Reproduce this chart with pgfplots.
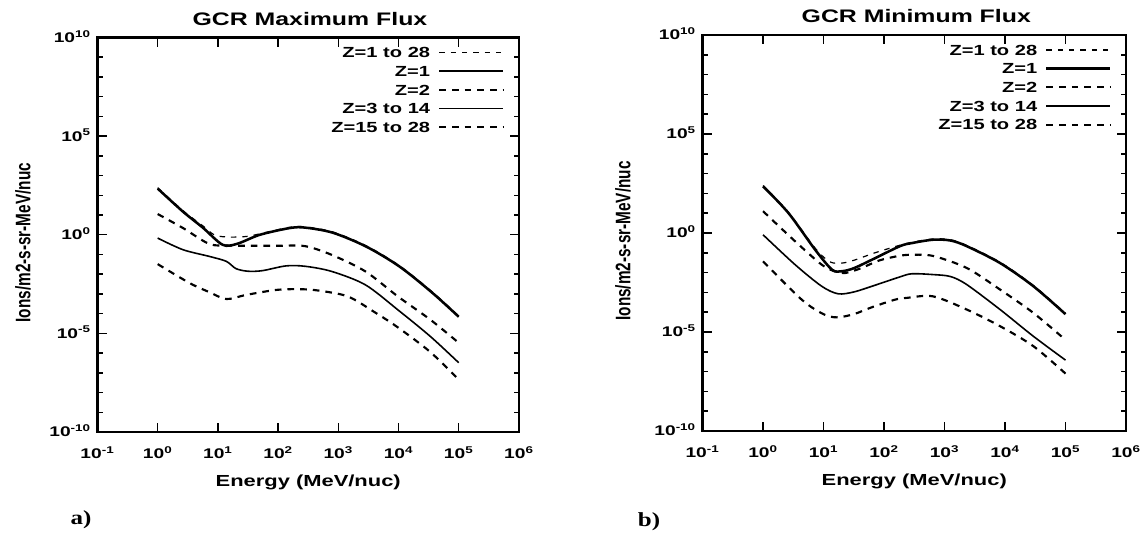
\documentclass[border=0pt]{standalone}
\usepackage{graphicx}
\usepackage{pgfplots}
\pgfplotsset{compat=1.18}
\usepackage{fontspec}
\setmainfont{Liberation Sans}[FakeStretch=1.37]
\newfontfamily\plainsans{Liberation Sans}
\newfontfamily\panelfont{Liberation Serif}[FakeStretch=1.25]

\pgfplotsset{
  gcr/.style={
    scale only axis,
    xmin=0.1, xmax=1e6, ymin=1e-10, ymax=1e10,
    xtick={0.1,1,10,100,1000,10000,100000,1000000},
    xticklabels={10\textsuperscript{-1},10\textsuperscript{0},10\textsuperscript{1},10\textsuperscript{2},10\textsuperscript{3},10\textsuperscript{4},10\textsuperscript{5},10\textsuperscript{6}},
    ytick={1e-10,1e-5,1,1e5,1e10},
    yticklabels={10\textsuperscript{-10},10\textsuperscript{-5},10\textsuperscript{0},10\textsuperscript{5},10\textsuperscript{10}},
    xminorticks=false,
    minor ytick={1e-9,1e-8,1e-7,1e-6,1e-4,1e-3,1e-2,1e-1,1e1,1e2,1e3,1e4,1e6,1e7,1e8,1e9},
    major tick length=7pt, minor tick length=3.8pt,
    tick style={black, line width=1.1pt},
    axis line style={line width=1.6pt},
    tick label style={font=\fontsize{10.5}{12}\selectfont\bfseries},
    xticklabel style={anchor=base, yshift=-20pt},
    yticklabel style={anchor=base east, yshift=-3.7pt, xshift=-1.5pt},
    title style={font=\fontsize{13.6}{16}\selectfont\bfseries, anchor=base},
    xlabel={Energy (MeV/nuc)},
    xlabel style={font=\fontsize{12}{14}\selectfont\bfseries, at={(axis description cs:0.5,0)}, anchor=base, yshift=-41pt},
    ylabel={\scalebox{1}[1.37]{Ions/m2-s-sr-MeV/nuc}},
    ylabel style={font=\plainsans\fontsize{11.5}{13}\selectfont\bfseries, anchor=center},
    legend style={draw=none, fill=none, at={(1,1)}, anchor=north east,
      xshift=-10.5pt, yshift=-7pt, inner sep=0pt, row sep=6pt, column sep=6pt,
      font=\fontsize{11}{13}\selectfont\bfseries,
      nodes={inner sep=0pt, text height=8pt, text depth=0pt}},
    legend cell align=right, legend plot pos=right,
    legend image code/.code={\draw[##1] (0pt,0pt) -- (48pt,0pt);},
  },
  tot/.style={black, line width=0.9pt, dash pattern=on 4pt off 4.5pt, smooth},
  zone/.style={black, line width=1.9pt, smooth},
  ztwo/.style={black, line width=1.6pt, dash pattern=on 5pt off 4.5pt, smooth},
  zlight/.style={black, line width=1.2pt, smooth},
  zheavy/.style={black, line width=1.6pt, dash pattern=on 5pt off 4.5pt, smooth},
}

\begin{document}
\begin{tikzpicture}
\useasboundingbox (0,0) rectangle (855.75pt,403.5pt);

% a) maximum flux
\begin{loglogaxis}[gcr, at={(73.1pt,79.5pt)}, anchor=south west,
  width=316.1pt, height=295.9pt,
  title={GCR Maximum Flux}, title style={yshift=2.6pt, xshift=1.3pt},
  ylabel style={at={(axis description cs:-0.177,0.48)}}]
\addplot[tot] coordinates {(1,240) (2.63,16.6) (5.62,2.82) (8.91,0.955) (15.8,0.759) (31.6,0.832) (63.1,1.32) (158,2.40) (282,2.51) (813,1.38) (2951,0.269) (10471,0.0263) (36308,1.26e-3) (1e5,7.59e-5)};
\addplot[zone] coordinates {(1,219) (2.63,14.8) (5.62,2.29) (12.0,0.309) (20.9,0.347) (50.1,1.0) (158,2.19) (282,2.29) (813,1.26) (2951,0.245) (10471,0.0240) (36308,1.15e-3) (1e5,6.92e-5)};
\addplot[ztwo] coordinates {(1,11.2) (2.63,2.19) (7.24,0.339) (15.8,0.282) (33.1,0.275) (100,0.275) (282,0.263) (776,0.0955) (2818,0.0138) (9772,7.41e-4) (33884,4.90e-5) (1e5,3.31e-6)};
\addplot[zlight] coordinates {(1,0.676) (2.63,0.174) (7.24,0.0794) (13.8,0.0447) (20.0,0.0191) (31.6,0.0141) (55.0,0.0151) (135,0.0263) (282,0.0251) (776,0.0138) (2818,2.88e-3) (9772,1.55e-4) (33884,6.92e-6) (1e5,3.24e-7)};
\addplot[zheavy] coordinates {(1,0.0324) (3.39,3.55e-3) (7.08,1.26e-3) (13.8,5.5e-4) (29.5,8.9e-4) (91.2,1.58e-3) (219,1.74e-3) (468,1.48e-3) (1445,7.41e-4) (3981,1.2e-4) (9772,2.0e-5) (33884,1.12e-6) (1e5,4.47e-8)};
\legend{Z=1 to 28, Z=1, Z=2, Z=3 to 14, Z=15 to 28}
\end{loglogaxis}

% b) minimum flux
\begin{loglogaxis}[gcr, at={(526.9pt,80.25pt)}, anchor=south west,
  width=317.6pt, height=297pt,
  title={GCR Minimum Flux}, title style={yshift=3pt, xshift=1.5pt},
  ylabel style={at={(axis description cs:-0.188,0.48)}}]
\addplot[tot] coordinates {(1,251) (2.63,11.2) (7.24,0.174) (12.6,0.0355) (20.0,0.0302) (31.6,0.0417) (70.8,0.1) (182,0.240) (288,0.339) (646,0.501) (1259,0.457) (2344,0.234) (8318,0.0331) (29512,2.24e-3) (1e5,8.71e-5)};
\addplot[zone] coordinates {(1,229) (2.63,10.2) (7.24,0.145) (13.8,0.0141) (20.0,0.0117) (31.6,0.0166) (63.1,0.0447) (182,0.214) (288,0.309) (646,0.457) (1259,0.417) (2344,0.214) (8318,0.0302) (29512,2.04e-3) (1e5,7.94e-5)};
\addplot[ztwo] coordinates {(1,12.6) (3.39,0.380) (9.33,0.0251) (15.8,0.0112) (22.9,9.55e-3) (39.8,0.0158) (85.1,0.0417) (182,0.0708) (288,0.0794) (646,0.0692) (2344,0.0170) (8318,1.38e-3) (29512,9.12e-5) (1e5,3.98e-6)};
\addplot[zlight] coordinates {(1,0.813) (3.39,0.0251) (9.33,2.04e-3) (17.4,8.51e-4) (31.6,1.05e-3) (63.1,2.04e-3) (182,6.03e-3) (288,8.71e-3) (646,7.94e-3) (1259,6.31e-3) (2344,2.45e-3) (8318,1.35e-4) (29512,6.03e-6) (1e5,3.80e-7)};
\addplot[zheavy] coordinates {(1,0.0372) (4.37,4.27e-4) (10,7.94e-5) (16.6,5.50e-5) (31.6,7.94e-5) (63.1,1.78e-4) (151,4.27e-4) (234,5.25e-4) (646,6.31e-4) (2344,1.35e-4) (8318,1.95e-5) (29512,1.91e-6) (1e5,7.94e-8)};
\legend{Z=1 to 28, Z=1, Z=2, Z=3 to 14, Z=15 to 28}
\end{loglogaxis}

\node[font=\panelfont\fontsize{15}{17}\selectfont\bfseries] at (60.75pt,13.5pt) {a)};
\node[font=\panelfont\fontsize{15}{17}\selectfont\bfseries] at (486.75pt,12.5pt) {b)};
\end{tikzpicture}
\end{document}
